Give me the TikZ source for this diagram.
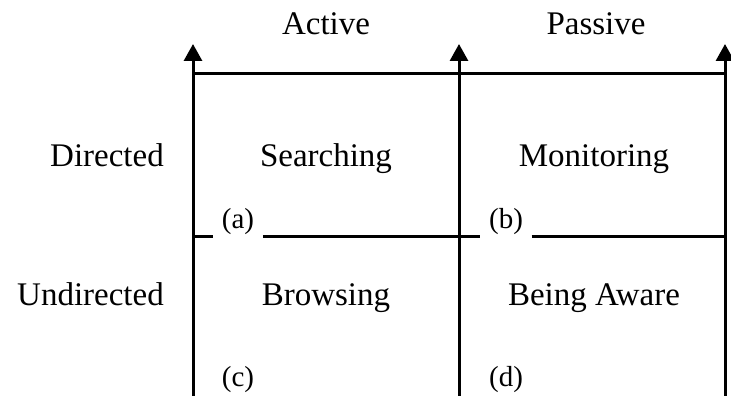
\documentclass[tikz,border=0pt]{standalone}
\usepackage{fontspec}
\setmainfont{Liberation Serif}
\usetikzlibrary{arrows.meta}
\tikzset{axis/.style = {line width=3pt, -{Triangle[length=17pt, width=18pt]}},
         grid/.style = {line width=3pt},
         lbl/.style = {font=\fontsize{33}{36}\selectfont, anchor=base, inner sep=0pt},
         tag/.style = {font=\fontsize{29}{32}\selectfont, anchor=base, inner xsep=8.5pt, inner ysep=0pt}}

\begin{document}
\begin{tikzpicture}[x=1pt, y=-1pt]
    \useasboundingbox (0, 0) rectangle (731, 396);

    % column and row headings
    \node [lbl] (active) at (326, 35) {Active};
    \node [lbl] (passive) at (596, 35) {Passive};
    \node [lbl, anchor=base east] (directed) at (164, 166) {Directed};
    \node [lbl, anchor=base east] (undirected) at (164, 305) {Undirected};

    % quadrants
    \node [lbl] (searching) at (326, 166) {Searching};
    \node [lbl] (monitoring) at (594, 166) {Monitoring};
    \node [lbl] (browsing) at (326, 305) {Browsing};
    \node [lbl] (aware) at (594, 305) {Being Aware};

    \node [tag] (a) at (238, 228) {(a)};
    \node [tag] (b) at (506, 228) {(b)};
    \node [tag] (c) at (238, 386) {(c)};
    \node [tag] (d) at (506, 386) {(d)};

    % axes
    \coordinate (top) at (193, 74);
    \coordinate (mid) at (193, 236);
    \foreach \x/\n in {193/l, 459/m, 725/r} {
      \coordinate (base\n) at (\x, 396);
      \coordinate (tip\n) at (\x, 44);
      \draw [axis] (base\n) -- (tip\n);
    }
    \draw [grid] (top) -- (top -| tipr);
    \draw [grid] (mid) -- (a.west |- mid);
    \draw [grid] (a.east |- mid) -- (b.west |- mid);
    \draw [grid] (b.east |- mid) -- (mid -| tipr);
\end{tikzpicture}
\end{document}
